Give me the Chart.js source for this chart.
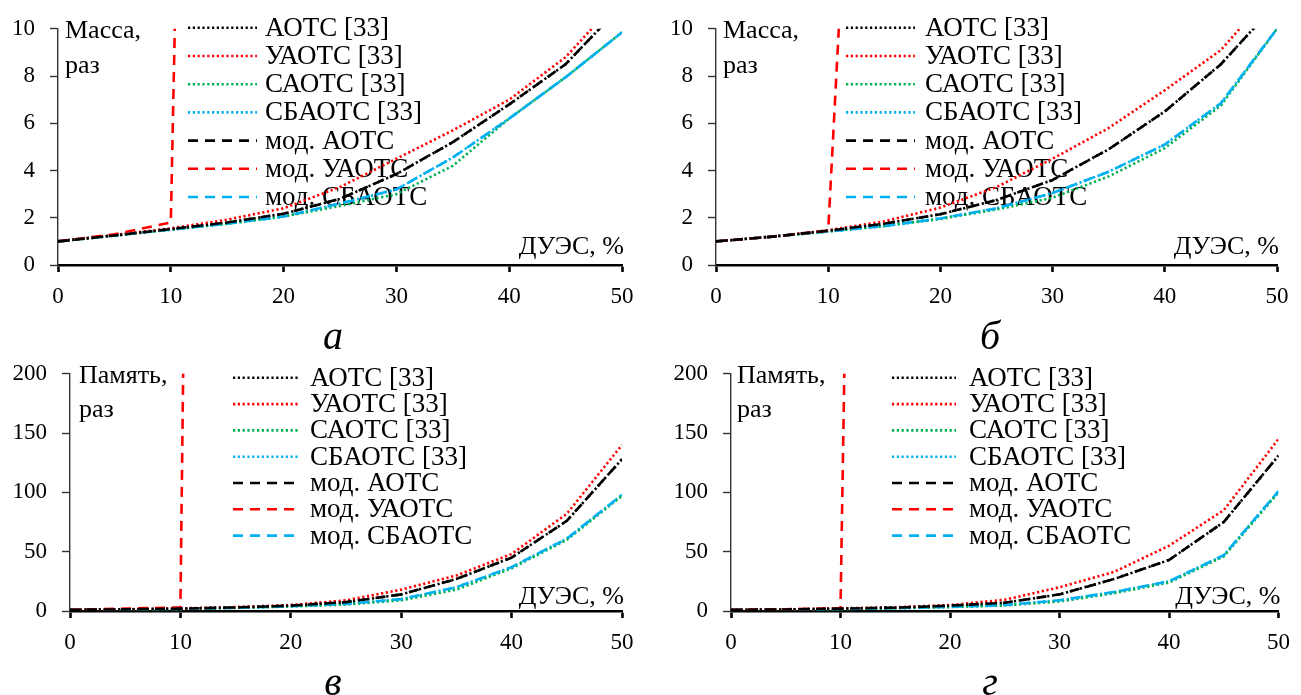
<!DOCTYPE html>
<html>
<head>
<meta charset="utf-8">
<script src="https://cdn.jsdelivr.net/npm/chart.js@4.4.1/dist/chart.umd.min.js"></script>
<style>
  body { margin: 0; background: #fff; width: 1301px; height: 695px; position: relative; overflow: hidden; }
  canvas { position: absolute; }
</style>
</head>
<body>
<canvas id="massA" width="650" height="350" style="left:0;top:0"></canvas>
<canvas id="massB" width="651" height="350" style="left:650px;top:0"></canvas>
<canvas id="memC" width="650" height="350" style="left:0;top:345px"></canvas>
<canvas id="memD" width="651" height="350" style="left:650px;top:345px"></canvas>
<script>
// series names, same order in every panel
const seriesLabels = ['АОТС [33]', 'УАОТС [33]', 'САОТС [33]', 'СБАОТС [33]', 'мод. АОТС', 'мод. УАОТС', 'мод. СБАОТС'];

// ДУЭС, %
const duesX = [0, 5, 10, 15, 20, 25, 30, 35, 40, 45, 50];
const jumpX = [0, 5, 10, 11];   // мод. УАОТС breaks down right after 10 %
const duesTicks = [0, 10, 20, 30, 40, 50];
const massTicks = [0, 2, 4, 6, 8, 10];
const memoryTicks = [0, 50, 100, 150, 200];

// а) mass, times
const massA_aots   = [1, 1.25, 1.52, 1.8, 2.17, 2.8, 3.85, 5.2, 6.8, 8.5, 11.0];
const massA_uaots  = [1, 1.27, 1.55, 1.92, 2.4, 3.3, 4.5, 5.7, 7.0, 8.8, 11.4];
const massA_saots  = [1, 1.25, 1.5, 1.75, 2.05, 2.5, 3.0, 4.2, 6.2, 7.95, 9.85];
const massA_sbaots = [1, 1.25, 1.5, 1.75, 2.05, 2.6, 3.2, 4.55, 6.2, 7.95, 9.85];
const massA_modAots   = [1, 1.25, 1.52, 1.8, 2.17, 2.8, 3.85, 5.2, 6.8, 8.5, 11.0];
const massA_modUaots  = [1, 1.3, 1.8, 25];
const massA_modSbaots = [1, 1.25, 1.5, 1.75, 2.05, 2.6, 3.2, 4.55, 6.2, 7.95, 9.85];

// б) mass, times
const massB_aots   = [1, 1.2, 1.45, 1.75, 2.15, 2.75, 3.6, 4.9, 6.5, 8.5, 11.1];
const massB_uaots  = [1, 1.2, 1.47, 1.85, 2.43, 3.3, 4.5, 5.8, 7.4, 9.1, 11.8];
const massB_saots  = [1, 1.2, 1.42, 1.65, 1.95, 2.35, 2.85, 3.75, 4.95, 6.75, 10.0];
const massB_sbaots = [1, 1.2, 1.42, 1.65, 1.97, 2.4, 3.05, 3.95, 5.1, 6.85, 10.0];
const massB_modAots   = [1, 1.2, 1.45, 1.75, 2.15, 2.75, 3.6, 4.9, 6.5, 8.5, 11.1];
const massB_modUaots  = [1, 1.2, 1.45, 10.5];
const massB_modSbaots = [1, 1.2, 1.42, 1.65, 1.97, 2.4, 3.05, 3.95, 5.1, 6.85, 10.0];

// в) memory, times
const memC_aots   = [1, 1.4, 2, 3, 4.5, 7.5, 14, 27, 45, 76, 128];
const memC_uaots  = [1, 1.5, 2.2, 3.3, 5, 9, 18, 30, 48, 82, 140];
const memC_saots  = [1, 1.3, 1.8, 2.6, 3.8, 5.5, 9, 18, 36, 60, 97];
const memC_sbaots = [1, 1.3, 1.8, 2.7, 4, 6, 10, 20, 37, 61, 98];
const memC_modAots   = [1, 1.4, 2, 3, 4.5, 7.5, 14, 27, 45, 76, 128];
const memC_modUaots  = [1, 2, 3, 790];
const memC_modSbaots = [1, 1.3, 1.8, 2.7, 4, 6, 10, 20, 37, 61, 98];

// г) memory, times
const memD_aots   = [1, 1.3, 2, 2.8, 4.5, 7, 14, 27, 43, 75, 131];
const memD_uaots  = [1, 1.35, 2.2, 3.2, 5, 9.5, 20, 33, 55, 85, 145];
const memD_saots  = [1, 1.2, 1.7, 2.3, 3.3, 4.7, 8, 15, 24, 46, 100];
const memD_sbaots = [1, 1.2, 1.7, 2.4, 3.5, 5, 9, 16, 25, 47, 101];
const memD_modAots   = [1, 1.3, 2, 2.8, 4.5, 7, 14, 27, 43, 75, 131];
const memD_modUaots  = [1, 1.5, 2.2, 570];
const memD_modSbaots = [1, 1.2, 1.7, 2.4, 3.5, 5, 9, 16, 25, 47, 101];

const SERIF = "'Liberation Serif', 'Times New Roman', serif";
Chart.defaults.font.family = SERIF;
Chart.defaults.color = '#000';

const DOT = [2.2, 2.6];
const DASH = [10, 7];
const lineStyles = [
    { color: '#000000', dash: DOT,  order: 2 },
    { color: '#ff0000', dash: DOT,  order: 2 },
    { color: '#00b050', dash: DOT,  order: 2 },
    { color: '#00b0f0', dash: DOT,  order: 2 },
    { color: '#000000', dash: DASH, order: 1 },
    { color: '#ff0000', dash: DASH, order: 1 },
    { color: '#00b0f0', dash: DASH, order: 1 }
];

function points(xs, ys)
{
    return xs.map((x, i) => ({ x: x, y: ys[i] }));
}

function makeDatasets(series)
{
    return series.map((s, i) => ({
        label: seriesLabels[i],
        data: points(s.x, s.y),
        borderColor: lineStyles[i].color,
        borderDash: lineStyles[i].dash,
        borderWidth: 2.6,
        borderCapStyle: 'butt',
        order: lineStyles[i].order,
        pointRadius: 0,
        fill: false,
        tension: 0
    }));
}

// axis titles, in-plot legend and the panel letter
function panelText(cfg)
{
    return {
        id: 'panelText',
        beforeDatasetsDraw(chart)
        {
            const ctx = chart.ctx;
            const a = chart.chartArea;
            ctx.save();
            ctx.fillStyle = '#000';
            ctx.textBaseline = 'middle';

            ctx.font = '26px ' + SERIF;
            ctx.textAlign = 'left';
            cfg.yTitle.forEach((t, i) => ctx.fillText(t, a.left + cfg.yTitleDx, a.top + 2 + i * cfg.yTitleStep));

            ctx.textAlign = 'right';
            ctx.fillText('ДУЭС, %', a.right + 2, a.bottom - cfg.xTitleDy);

            ctx.font = '27px ' + SERIF;
            chart.data.datasets.forEach((ds, i) => {
                const y = a.top + cfg.legTop + i * cfg.legStep;
                ctx.beginPath();
                ctx.setLineDash(ds.borderDash);
                ctx.strokeStyle = ds.borderColor;
                ctx.lineWidth = ds.borderWidth;
                ctx.moveTo(a.left + cfg.legX1, y);
                ctx.lineTo(a.left + cfg.legX2, y);
                ctx.stroke();
                ctx.textAlign = 'left';
                ctx.fillText(ds.label, a.left + cfg.legText, y + 1);
            });
            ctx.restore();
        },
        afterDraw(chart)
        {
            const ctx = chart.ctx;
            ctx.save();
            ctx.fillStyle = '#000';
            ctx.font = 'italic 40px ' + SERIF;
            ctx.textAlign = 'center';
            ctx.textBaseline = 'middle';
            ctx.fillText(cfg.caption, cfg.captionX, cfg.captionY);
            ctx.restore();
        }
    };
}

function makePanel(id, series, yMax, yTicks, cfg)
{
    new Chart(document.getElementById(id), {
        type: 'line',
        data: { datasets: makeDatasets(series) },
        options: {
            responsive: false,
            animation: false,
            layout: { padding: { left: 0, right: cfg.padRight, top: cfg.padTop, bottom: cfg.padBottom } },
            plugins: { legend: { display: false }, tooltip: { enabled: false } },
            scales: {
                x: {
                    type: 'linear', min: 0, max: 50,
                    afterBuildTicks: s => { s.ticks = duesTicks.map(v => ({ value: v })); },
                    afterFit: s => { s.height = 50; },
                    border: { display: true, color: '#000', width: 2.6 },
                    grid: { drawOnChartArea: false, drawTicks: true, tickLength: 7, tickWidth: 2.6, tickColor: '#000' },
                    ticks: { color: '#000', font: { size: 23 }, padding: 11, maxRotation: 0 }
                },
                y: {
                    type: 'linear', min: 0, max: yMax,
                    afterBuildTicks: s => { s.ticks = yTicks.map(v => ({ value: v })); },
                    afterFit: s => { s.width = cfg.yWidth; },
                    border: { display: true, color: '#333', width: 1.4 },
                    grid: { drawOnChartArea: false, drawTicks: true, tickLength: 8, tickWidth: 1.4, tickColor: '#333' },
                    ticks: { color: '#000', font: { size: 23 }, padding: 15 }
                }
            }
        },
        plugins: [panelText(cfg)]
    });
}

function sevenSeries(aots, uaots, saots, sbaots, modAots, modUaots, modSbaots)
{
    return [
        { x: duesX, y: aots },
        { x: duesX, y: uaots },
        { x: duesX, y: saots },
        { x: duesX, y: sbaots },
        { x: duesX, y: modAots },
        { x: jumpX, y: modUaots },
        { x: duesX, y: modSbaots }
    ];
}

const topLegend = { legX1: 130, legX2: 199, legTop: -1, legStep: 28.2, xTitleDy: 18, yTitleStep: 35 };
const bottomLegend = { legTop: 4, legStep: 26.3, xTitleDy: 14, yTitleStep: 34 };

makePanel('massA',
    sevenSeries(massA_aots, massA_uaots, massA_saots, massA_sbaots, massA_modAots, massA_modUaots, massA_modSbaots),
    10, massTicks,
    Object.assign({}, topLegend, { yWidth: 58, padRight: 28, padTop: 26, padBottom: 35, legText: 207,
        yTitle: ['Масса,', 'раз'], yTitleDx: 7, caption: 'а', captionX: 333, captionY: 338 }));

makePanel('massB',
    sevenSeries(massB_aots, massB_uaots, massB_saots, massB_sbaots, massB_modAots, massB_modUaots, massB_modSbaots),
    10, massTicks,
    Object.assign({}, topLegend, { yWidth: 66, padRight: 24, padTop: 26, padBottom: 35, legText: 209,
        yTitle: ['Масса,', 'раз'], yTitleDx: 7, caption: 'б', captionX: 340, captionY: 338 }));

makePanel('memC',
    sevenSeries(memC_aots, memC_uaots, memC_saots, memC_sbaots, memC_modAots, memC_modUaots, memC_modSbaots),
    200, memoryTicks,
    Object.assign({}, bottomLegend, { yWidth: 70, padRight: 28, padTop: 27, padBottom: 34,
        legX1: 163, legX2: 228, legText: 240,
        yTitle: ['Память,', 'раз'], yTitleDx: 9, caption: 'в', captionX: 333, captionY: 339 }));

makePanel('memD',
    sevenSeries(memD_aots, memD_uaots, memD_saots, memD_sbaots, memD_modAots, memD_modUaots, memD_modSbaots),
    200, memoryTicks,
    Object.assign({}, bottomLegend, { yWidth: 81, padRight: 21, padTop: 27, padBottom: 34,
        legX1: 161, legX2: 225, legText: 238,
        yTitle: ['Память,', 'раз'], yTitleDx: 6, caption: 'г', captionX: 340, captionY: 339 }));
</script>
</body>
</html>
